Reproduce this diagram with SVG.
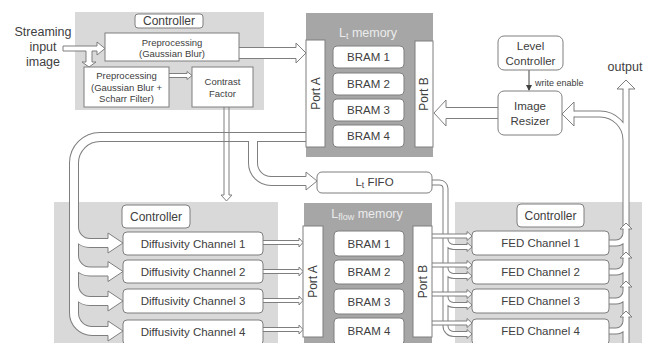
<svg xmlns="http://www.w3.org/2000/svg" width="652" height="343" viewBox="0 0 652 343">
<style>
.bg{fill:#fff}
.pl{fill:#d9d9d9}
.pd{fill:#a6a6a6}
.box{fill:#fff;stroke:#7f7f7f;stroke-width:1}
.t{font-family:"Liberation Sans",Arial,sans-serif;fill:#404040;text-anchor:middle;dominant-baseline:central}
.tw{font-family:"Liberation Sans",Arial,sans-serif;fill:#ececec;text-anchor:middle;dominant-baseline:central}
.arr{fill:#fff;stroke:#7f7f7f;stroke-width:1;stroke-linejoin:miter}
.arrn{fill:none;stroke:#7f7f7f;stroke-width:1}
.pg{fill:none;stroke:#7f7f7f}
.pw{fill:none;stroke:#fff}
</style>
<defs>
<marker id="mh" viewBox="0 0 6 6" refX="5" refY="3" markerWidth="6" markerHeight="6" orient="auto"><path d="M0,0 L6,3 L0,6 Z" fill="#404040"/></marker>
</defs>
<rect class="bg" x="0" y="0" width="652" height="343"/>

<!-- panels -->
<g id="panel-top-controller"><rect class="pl" x="75" y="12" width="189" height="98"/></g>
<g id="panel-lt-memory"><rect class="pd" x="306" y="13" width="127" height="144"/>
<text class="tw" x="368" y="33" font-size="12.5">L<tspan dy="3" font-size="9">t</tspan><tspan dy="-3"> memory</tspan></text></g>
<g id="panel-bottom-left"><rect class="pl" x="54" y="202" width="224" height="141"/></g>
<g id="panel-lflow-memory"><rect class="pd" x="304" y="203" width="128" height="140"/>
<text class="tw" x="367" y="214" font-size="12.5">L<tspan dy="3" font-size="9">flow</tspan><tspan dy="-3"> memory</tspan></text></g>
<g id="panel-bottom-right"><rect class="pl" x="455" y="202" width="187" height="141"/></g>

<!-- connectors -->
<g id="connectors">
  <!-- main pipe network from Port A -->
  <g>
    <path class="pg" stroke-width="10" d="M306,137 H100 A26,26 0 0 0 74,163 V313 A18,18 0 0 0 92,331 H109 M74,227 A16,16 0 0 0 90,243 H109 M74,255.5 A16,16 0 0 0 90,271.5 H109 M74,285 A16,16 0 0 0 90,301 H109 M253,137 V163 A18,18 0 0 0 271,181 H307"/>
    <path class="pw" stroke-width="8" d="M306,137 H100 A26,26 0 0 0 74,163 V313 A18,18 0 0 0 92,331 H109 M74,227 A16,16 0 0 0 90,243 H109 M74,255.5 A16,16 0 0 0 90,271.5 H109 M74,285 A16,16 0 0 0 90,301 H109 M253,137 V163 A18,18 0 0 0 271,181 H307"/>
    <path class="arr" d="M108,238.5 V233 L123,243 L108,253 V247.5"/>
    <path class="arr" d="M108,267 V261.5 L123,271.5 L108,281.5 V276"/>
    <path class="arr" d="M108,296.5 V291 L123,301 L108,311 V305.5"/>
    <path class="arr" d="M108,326.5 V321 L123,331 L108,341 V335.5"/>
    <path class="arr" d="M306,176.5 V172 L317,181 L306,190 V185.5"/>
  </g>
  <!-- FIFO pipe -->
  <g>
    <path class="pg" stroke-width="6" d="M432,182.5 H439.5 A6,6 0 0 1 445.5,188.5 V326 A8,8 0 0 0 453.5,334 H468 M445.5,239 A8,8 0 0 0 453.5,247 H468 M445.5,268 A8,8 0 0 0 453.5,276 H468 M445.5,297 A8,8 0 0 0 453.5,305 H468"/>
    <path class="pw" stroke-width="4" d="M432,182.5 H439.5 A6,6 0 0 1 445.5,188.5 V326 A8,8 0 0 0 453.5,334 H468 M445.5,239 A8,8 0 0 0 453.5,247 H468 M445.5,268 A8,8 0 0 0 453.5,276 H468 M445.5,297 A8,8 0 0 0 453.5,305 H468"/>
    <path class="arr" d="M467,245 V242.5 L472,247 L467,251.5 V249"/>
    <path class="arr" d="M467,274 V271.5 L472,276 L467,280.5 V278"/>
    <path class="arr" d="M467,303 V300.5 L472,305 L467,309.5 V307"/>
    <path class="arr" d="M467,332 V329.5 L472,334 L467,338.5 V336"/>
  </g>
  <!-- Port B to FED channels -->
  <path class="arr" d="M432,234 H467 V231.5 L472,236 L467,240.5 V238 H432"/>
  <path class="arr" d="M432,263 H467 V260.5 L472,265 L467,269.5 V267 H432"/>
  <path class="arr" d="M432,292 H467 V289.5 L472,294 L467,298.5 V296 H432"/>
  <path class="arr" d="M432,321 H467 V318.5 L472,323 L467,327.5 V325 H432"/>
  <!-- Diffusivity to Port A -->
  <path class="arr" d="M263,240.5 H299 V238 L303,242.5 L299,247 V244.5 H263"/>
  <path class="arr" d="M263,269.5 H299 V267 L303,271.5 L299,276 V273.5 H263"/>
  <path class="arr" d="M263,298.5 H299 V296 L303,300.5 L299,305 V302.5 H263"/>
  <path class="arr" d="M263,327.5 H299 V325 L303,329.5 L299,334 V331.5 H263"/>
  <!-- output network -->
  <g>
    <path class="pg" stroke-width="7" d="M626,343 V89 M574,114 H600 A26,26 0 0 1 626,140 M609,243 H616 A10,10 0 0 0 626,233 M609,272 H616 A10,10 0 0 0 626,262 M609,301 H616 A10,10 0 0 0 626,291 M609,331 H616 A10,10 0 0 0 626,321"/>
    <path class="pw" stroke-width="5" d="M626,343 V89 M574,114 H600 A26,26 0 0 1 626,140 M609,243 H616 A10,10 0 0 0 626,233 M609,272 H616 A10,10 0 0 0 626,262 M609,301 H616 A10,10 0 0 0 626,291 M609,331 H616 A10,10 0 0 0 626,321"/>
    <path class="arr" d="M623.5,89 H617 L626,80 L635,89 H628.5"/>
    <path class="arr" d="M623.5,229 H620 L626,223 L632,229 H628.5"/>
    <path class="arr" d="M623.5,258 H620 L626,252 L632,258 H628.5"/>
    <path class="arr" d="M623.5,287 H620 L626,281 L632,287 H628.5"/>
    <path class="arr" d="M623.5,317 H620 L626,311 L632,317 H628.5"/>
    <path class="arr" d="M574,111.5 V102 L562,114 L574,126 V116.5"/>
  </g>
  <!-- Image Resizer to Port B -->
  <path class="arr" d="M498,107.5 H446 V100 L434,113 L446,126 V118.5 H498"/>
  <!-- Level controller write enable -->
  <line x1="529" y1="70" x2="529" y2="90" stroke="#404040" stroke-width="1" marker-end="url(#mh)"/>
  <text class="t" x="535" y="83" font-size="9" text-anchor="start" style="text-anchor:start">write enable</text>
  <!-- streaming input -->
  <path class="arr" d="M63,46 H97 V42 L105,48.5 L97,55 V51 H92 V62 H96 L89,67 L82,62 H86 V51 H63 Z"/>
  <!-- preprocessing 1 to Port A -->
  <path class="arr" d="M239,47.5 H296 V43 L306,53 L296,63 V58.5 H239"/>
  <!-- preprocessing 2 to contrast -->
  <path class="arr" d="M169,73.5 H187 V71.5 L192,75.5 L187,79.5 V77.5 H169"/>
  <!-- contrast factor down -->
  <path class="arrn" d="M224,107 V195 H221 L226.5,201 L232,195 H229 V107"/>
</g>

<!-- nodes -->
<g id="streaming-input">
  <text class="t" x="43" y="32" font-size="12.5">Streaming</text>
  <text class="t" x="43" y="47" font-size="12.5">input</text>
  <text class="t" x="43" y="62" font-size="12.5">image</text>
</g>
<g id="controller-top"><rect class="box" x="135" y="14" width="68" height="14" rx="3"/><text class="t" x="169" y="21" font-size="12">Controller</text></g>
<g id="preprocessing-1"><rect class="box" x="105" y="33" width="134" height="28"/>
  <text class="t" x="172" y="42" font-size="9.5">Preprocessing</text><text class="t" x="172" y="53" font-size="9.5">(Gaussian Blur)</text></g>
<g id="preprocessing-2"><rect class="box" x="84" y="67" width="85" height="40"/>
  <text class="t" x="126.5" y="75" font-size="9.5">Preprocessing</text><text class="t" x="126.5" y="87" font-size="9.5">(Gaussian Blur +</text><text class="t" x="126.5" y="98.5" font-size="9.5">Scharr Filter)</text></g>
<g id="contrast-factor"><rect class="box" x="192" y="67" width="61" height="40"/>
  <text class="t" x="222.5" y="81" font-size="9.5">Contrast</text><text class="t" x="222.5" y="93" font-size="9.5">Factor</text></g>

<g id="lt-port-a"><rect class="box" x="306" y="40" width="19" height="107"/><text class="t" transform="translate(315.5,93.5) rotate(-90)" x="0" y="0" font-size="12">Port A</text></g>
<g id="lt-port-b"><rect class="box" x="415" y="41" width="18" height="106"/><text class="t" transform="translate(424,94) rotate(-90)" x="0" y="0" font-size="12">Port B</text></g>
<g id="lt-bram1"><rect class="box" x="333" y="46" width="71" height="22" rx="4"/><text class="t" x="368.5" y="57" font-size="11.5">BRAM 1</text></g>
<g id="lt-bram2"><rect class="box" x="333" y="73" width="71" height="22" rx="4"/><text class="t" x="368.5" y="84" font-size="11.5">BRAM 2</text></g>
<g id="lt-bram3"><rect class="box" x="333" y="99" width="71" height="22" rx="4"/><text class="t" x="368.5" y="110" font-size="11.5">BRAM 3</text></g>
<g id="lt-bram4"><rect class="box" x="333" y="125" width="71" height="22" rx="4"/><text class="t" x="368.5" y="136" font-size="11.5">BRAM 4</text></g>

<g id="level-controller"><rect class="box" x="498" y="36" width="65" height="34" rx="6"/>
  <text class="t" x="530.5" y="45.5" font-size="11.5">Level</text><text class="t" x="530.5" y="60.5" font-size="11.5">Controller</text></g>
<g id="image-resizer"><rect class="box" x="498" y="91" width="64" height="44" rx="6"/>
  <text class="t" x="530" y="106" font-size="11.5">Image</text><text class="t" x="530" y="120.5" font-size="11.5">Resizer</text></g>
<g id="output-label"><text class="t" x="625" y="67" font-size="12.5">output</text></g>

<g id="lt-fifo"><rect class="box" x="317" y="172" width="115" height="21" rx="5"/>
  <text class="t" x="374.5" y="182" font-size="11.5">L<tspan dy="3" font-size="8.5">t</tspan><tspan dy="-3"> FIFO</tspan></text></g>

<g id="controller-left"><rect class="box" x="122" y="205" width="68" height="23" rx="4"/><text class="t" x="156" y="216.5" font-size="12">Controller</text></g>
<g id="diff-ch1"><rect class="box" x="123" y="232" width="140" height="23" rx="4"/><text class="t" x="193" y="243.5" font-size="11.5">Diffusivity Channel 1</text></g>
<g id="diff-ch2"><rect class="box" x="123" y="260" width="140" height="23" rx="4"/><text class="t" x="193" y="271.5" font-size="11.5">Diffusivity Channel 2</text></g>
<g id="diff-ch3"><rect class="box" x="123" y="289" width="140" height="24" rx="4"/><text class="t" x="193" y="301" font-size="11.5">Diffusivity Channel 3</text></g>
<g id="diff-ch4"><rect class="box" x="123" y="320" width="140" height="25" rx="4"/><text class="t" x="193" y="331.5" font-size="11.5">Diffusivity Channel 4</text></g>

<g id="lflow-port-a"><rect class="box" x="303" y="226" width="20" height="111"/><text class="t" transform="translate(313,281.5) rotate(-90)" x="0" y="0" font-size="12">Port A</text></g>
<g id="lflow-port-b"><rect class="box" x="413" y="226" width="19" height="111"/><text class="t" transform="translate(422.5,281.5) rotate(-90)" x="0" y="0" font-size="12">Port B</text></g>
<g id="lflow-bram1"><rect class="box" x="334" y="231" width="70" height="25" rx="4"/><text class="t" x="369" y="243.5" font-size="11.5">BRAM 1</text></g>
<g id="lflow-bram2"><rect class="box" x="334" y="260" width="70" height="24" rx="4"/><text class="t" x="369" y="272" font-size="11.5">BRAM 2</text></g>
<g id="lflow-bram3"><rect class="box" x="334" y="289" width="70" height="25" rx="4"/><text class="t" x="369" y="301.5" font-size="11.5">BRAM 3</text></g>
<g id="lflow-bram4"><rect class="box" x="334" y="318" width="70" height="27" rx="4"/><text class="t" x="369" y="331" font-size="11.5">BRAM 4</text></g>

<g id="controller-right"><rect class="box" x="517" y="204" width="67" height="23" rx="4"/><text class="t" x="550.5" y="215.5" font-size="12">Controller</text></g>
<g id="fed-ch1"><rect class="box" x="472" y="231" width="137" height="24" rx="4"/><text class="t" x="540.5" y="243" font-size="11.5">FED Channel 1</text></g>
<g id="fed-ch2"><rect class="box" x="472" y="260" width="137" height="24" rx="4"/><text class="t" x="540.5" y="272" font-size="11.5">FED Channel 2</text></g>
<g id="fed-ch3"><rect class="box" x="472" y="289" width="137" height="24" rx="4"/><text class="t" x="540.5" y="301" font-size="11.5">FED Channel 3</text></g>
<g id="fed-ch4"><rect class="box" x="472" y="319" width="137" height="26" rx="4"/><text class="t" x="540.5" y="331" font-size="11.5">FED Channel 4</text></g>
</svg>
